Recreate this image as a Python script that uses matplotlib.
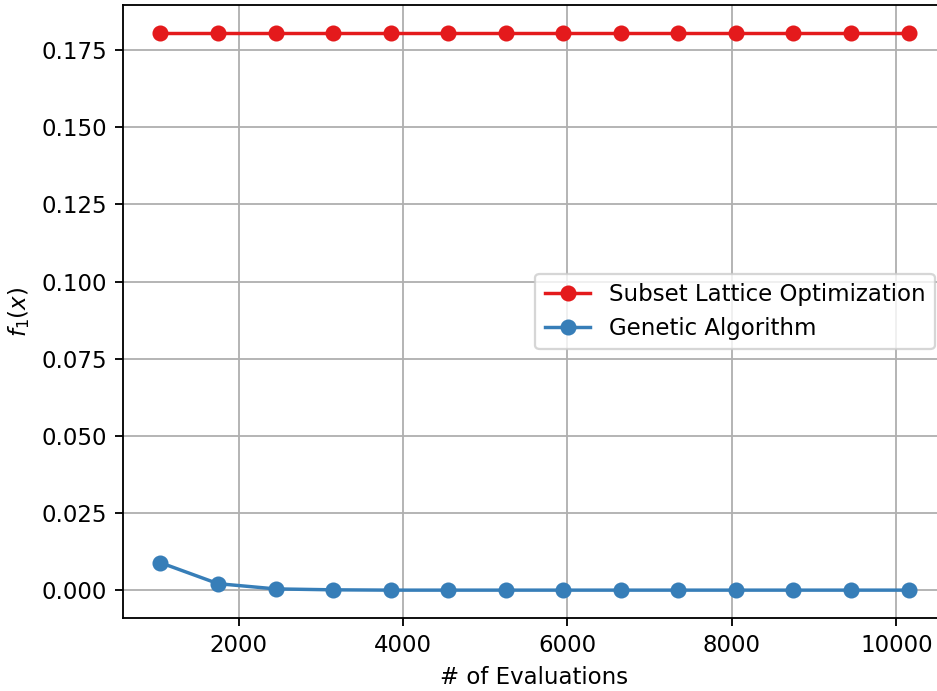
import numpy as np
import matplotlib.pyplot as plt

evaluations = [1050, 1750, 2450, 3150, 3850, 4550, 5250, 5950, 6650, 7350, 8050, 8750, 9450, 10150]
slo_values = [0.1806] * 14
ga_values = [0.0089, 0.0021, 0.0004, 0.0001, 0.0, 0.0, 0.0, 0.0, 0.0, 0.0, 0.0, 0.0, 0.0, 0.0]

dpi = 165
fig = plt.figure(figsize=(937 / dpi, 691 / dpi), dpi=dpi)
# right edge of the axes runs slightly past the canvas
ax = fig.add_axes([123 / 937, 1 - 618 / 691, (946 - 123) / 937, (618 - 5) / 691])

ax.plot(evaluations, slo_values, marker='o', color='#e41a1c',
        label='Subset Lattice Optimization')
ax.plot(evaluations, ga_values, marker='o', color='#377eb8',
        label='Genetic Algorithm')

ax.set_xlabel('# of Evaluations')
ax.set_ylabel('$f_1(x)$')
ax.grid(True)
ax.legend(loc='center right')

fig.savefig('out.png', dpi=dpi)
